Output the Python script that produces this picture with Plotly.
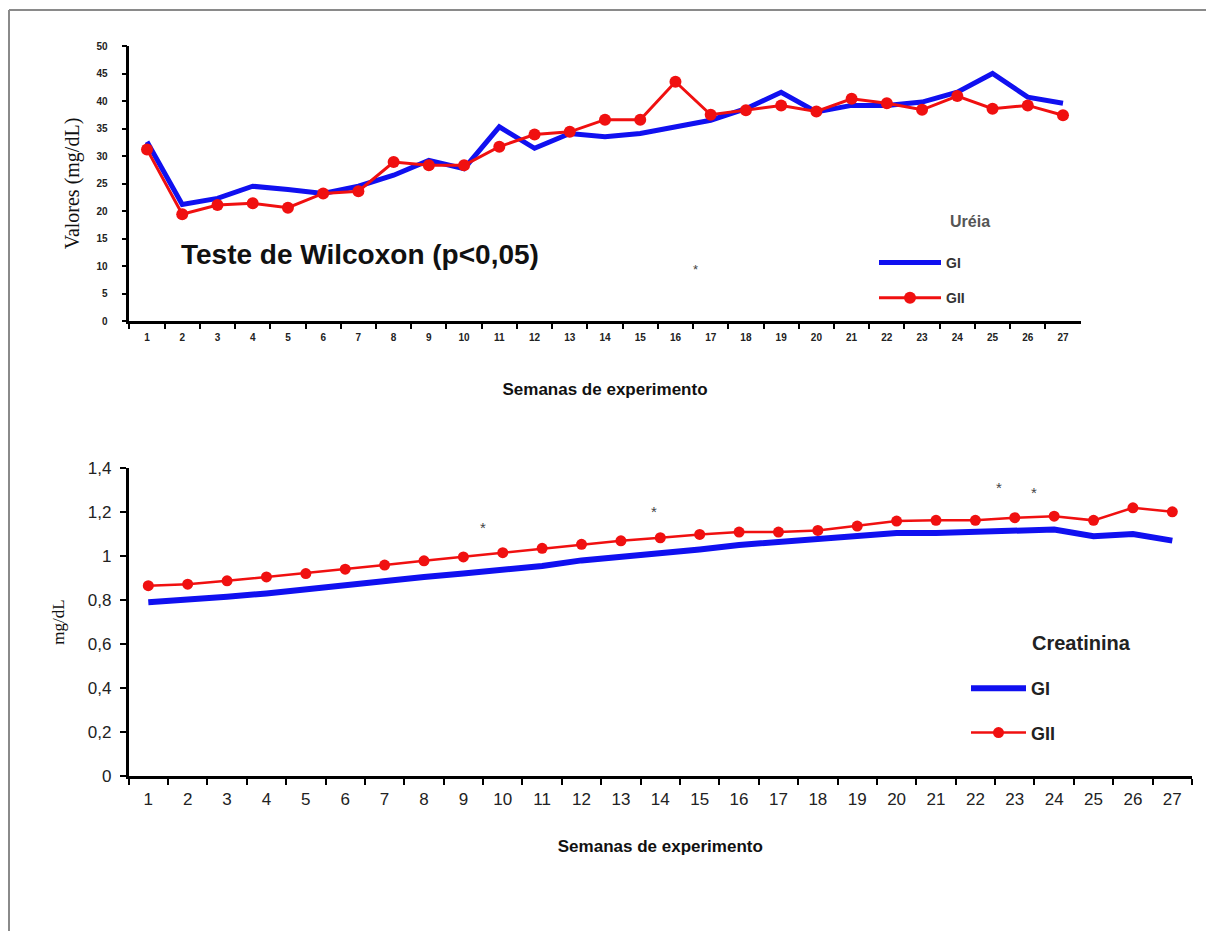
import plotly.graph_objects as go

# page body has an 8px margin: lay out in screen pixels, shifted by OFF
OFF = 8
W, H = 1214 - OFF, 931 - OFF

# ---------------- data ----------------
weeks = list(range(1, 28))
week_labels = [str(w) for w in weeks]

ureia_gi = [32.6, 21.2, 22.3, 24.5, 23.9, 23.2, 24.5, 26.5, 29.2, 27.7, 35.3, 31.4, 34.1, 33.5,
            34.1, 35.3, 36.5, 38.6, 41.6, 38.0, 39.2, 39.2, 39.8, 41.6, 45.0, 40.7, 39.6]
ureia_gii = [31.2, 19.4, 21.1, 21.4, 20.6, 23.2, 23.6, 28.9, 28.3, 28.3, 31.7, 33.9, 34.4, 36.6,
             36.6, 43.5, 37.5, 38.3, 39.2, 38.1, 40.4, 39.6, 38.4, 40.9, 38.6, 39.2, 37.4]

crea_gi = [0.79, 0.80, 0.815, 0.83, 0.85, 0.87, 0.89, 0.905, 0.92, 0.935, 0.955, 0.98, 0.995, 1.01,
           1.03, 1.05, 1.065, 1.075, 1.09, 1.105, 1.105, 1.11, 1.115, 1.12, 1.09, 1.10, 1.07]
crea_gii = [0.865, 0.872, 0.887, 0.905, 0.92, 0.94, 0.959, 0.978, 0.996, 1.015, 1.035, 1.053, 1.069, 1.083,
            1.098, 1.109, 1.109, 1.116, 1.136, 1.159, 1.162, 1.162, 1.174, 1.181, 1.162, 1.219, 1.201]

ureia_yticks = [0, 5, 10, 15, 20, 25, 30, 35, 40, 45, 50]
crea_yticks = [0, 0.2, 0.4, 0.6, 0.8, 1.0, 1.2, 1.4]
crea_yticklabels = ["0", "0,2", "0,4", "0,6", "0,8", "1", "1,2", "1,4"]

# significance marks (week position, value)
ureia_star_x = [16.57]
ureia_star_y = [9.3]
crea_star_x = [9.5, 13.85, 22.6, 23.5]
crea_star_y = [1.13, 1.20, 1.31, 1.29]

BLUE = "#1010f0"
RED = "#f01010"


def fx(p):
    return (p - OFF) / W


def fy(p):
    return 1 - (p - OFF) / H


fig = go.Figure()

# ---- top: Uréia ----
fig.add_trace(go.Scatter(x=week_labels, y=ureia_gi, mode="lines", name="GI",
                         line=dict(color=BLUE, width=5), xaxis="x", yaxis="y",
                         legend="legend", legendgroup="u1"))
fig.add_trace(go.Scatter(x=week_labels, y=ureia_gii, mode="lines+markers", name="GII",
                         line=dict(color=RED, width=3), marker=dict(color=RED, size=12),
                         xaxis="x", yaxis="y", legend="legend", legendgroup="u2"))

# ---- bottom: Creatinina ----
fig.add_trace(go.Scatter(x=week_labels, y=crea_gi, mode="lines", name="GI",
                         line=dict(color=BLUE, width=6), xaxis="x2", yaxis="y2",
                         legend="legend2", legendgroup="c1"))
fig.add_trace(go.Scatter(x=week_labels, y=crea_gii, mode="lines+markers", name="GII",
                         line=dict(color=RED, width=2.5), marker=dict(color=RED, size=11),
                         xaxis="x2", yaxis="y2", legend="legend2", legendgroup="c2"))

small_bold = dict(family="Arial", size=10, color="#222", weight="bold")
axis_common = dict(showline=True, linecolor="black", linewidth=2.5, showgrid=False,
                   zeroline=False, ticks="outside", tickcolor="black", tickwidth=2,
                   automargin=False)

annotations = [
    dict(text="Teste de Wilcoxon (p<0,05)", x=fx(360), y=fy(255), xref="paper", yref="paper",
         xanchor="center", yanchor="middle", showarrow=False,
         font=dict(family="Arial", size=28, color="#111", weight="bold")),
    dict(text="Uréia", x=fx(970), y=fy(222), xref="paper", yref="paper",
         xanchor="center", yanchor="middle", showarrow=False,
         font=dict(family="Arial", size=16, color="#555", weight="bold")),
    dict(text="Creatinina", x=fx(1081), y=fy(643), xref="paper", yref="paper",
         xanchor="center", yanchor="middle", showarrow=False,
         font=dict(family="Arial", size=20, color="#222", weight="bold")),
]
for sx, sy in zip(ureia_star_x, ureia_star_y):
    annotations.append(dict(text="*", x=sx - 1, y=sy, xref="x", yref="y", showarrow=False,
                            font=dict(family="Arial", size=13, color="#444")))
for sx, sy in zip(crea_star_x, crea_star_y):
    annotations.append(dict(text="*", x=sx - 1, y=sy, xref="x2", yref="y2", showarrow=False,
                            font=dict(family="Arial", size=15, color="#444")))

shapes = [
    dict(type="line", xref="paper", yref="paper", x0=fx(9), x1=1.0, y0=fy(10), y1=fy(10),
         line=dict(color="#8a8a8a", width=2)),
    dict(type="line", xref="paper", yref="paper", x0=fx(9), x1=fx(9), y0=0, y1=fy(10),
         line=dict(color="#8a8a8a", width=2)),
]

fig.update_layout(
    width=W, height=H,
    margin=dict(l=0, r=0, t=0, b=0),
    paper_bgcolor="white", plot_bgcolor="white",
    xaxis=dict(domain=[fx(129.4), fx(1080.6)], anchor="y", type="category",
               range=[-0.5, 26.5], tickson="boundaries", ticklen=5, ticklabelstandoff=5,
               tickfont=small_bold,
               title=dict(text="Semanas de experimento", standoff=42,
                          font=dict(family="Arial", size=17, color="#111", weight="bold")),
               **axis_common),
    yaxis=dict(domain=[fy(321), fy(46)], anchor="x", range=[0, 50],
               tickvals=ureia_yticks, ticklen=5, ticklabelstandoff=12, tickfont=small_bold,
               title=dict(text="Valores (mg/dL)", standoff=12,
                          font=dict(family="Liberation Serif", size=20, color="#111")),
               **axis_common),
    xaxis2=dict(domain=[fx(128.6), fx(1192)], anchor="y2", type="category",
                range=[-0.5, 26.5], tickson="boundaries", ticklen=6, ticklabelstandoff=6,
                tickfont=dict(family="Arial", size=17, color="#222"),
                title=dict(text="Semanas de experimento", standoff=32,
                           font=dict(family="Arial", size=17, color="#111", weight="bold")),
                **axis_common),
    yaxis2=dict(domain=[fy(776), fy(468)], anchor="x2", range=[0, 1.4],
                tickvals=crea_yticks, ticktext=crea_yticklabels, ticklen=6, ticklabelstandoff=5,
                tickfont=dict(family="Arial", size=17, color="#222"),
                title=dict(text="mg/dL", standoff=19,
                           font=dict(family="Liberation Serif", size=17, color="#111")),
                **axis_common),
    legend=dict(x=fx(874), y=fy(247), xanchor="left", yanchor="top",
                bgcolor="rgba(0,0,0,0)", tracegroupgap=14, itemwidth=62,
                font=dict(family="Arial", size=14, color="#333", weight="bold")),
    legend2=dict(x=fx(966), y=fy(670), xanchor="left", yanchor="top",
                 bgcolor="rgba(0,0,0,0)", tracegroupgap=18, itemwidth=55,
                 font=dict(family="Arial", size=18, color="#222", weight="bold")),
    annotations=annotations,
    shapes=shapes,
)

fig.write_html("out.html")
